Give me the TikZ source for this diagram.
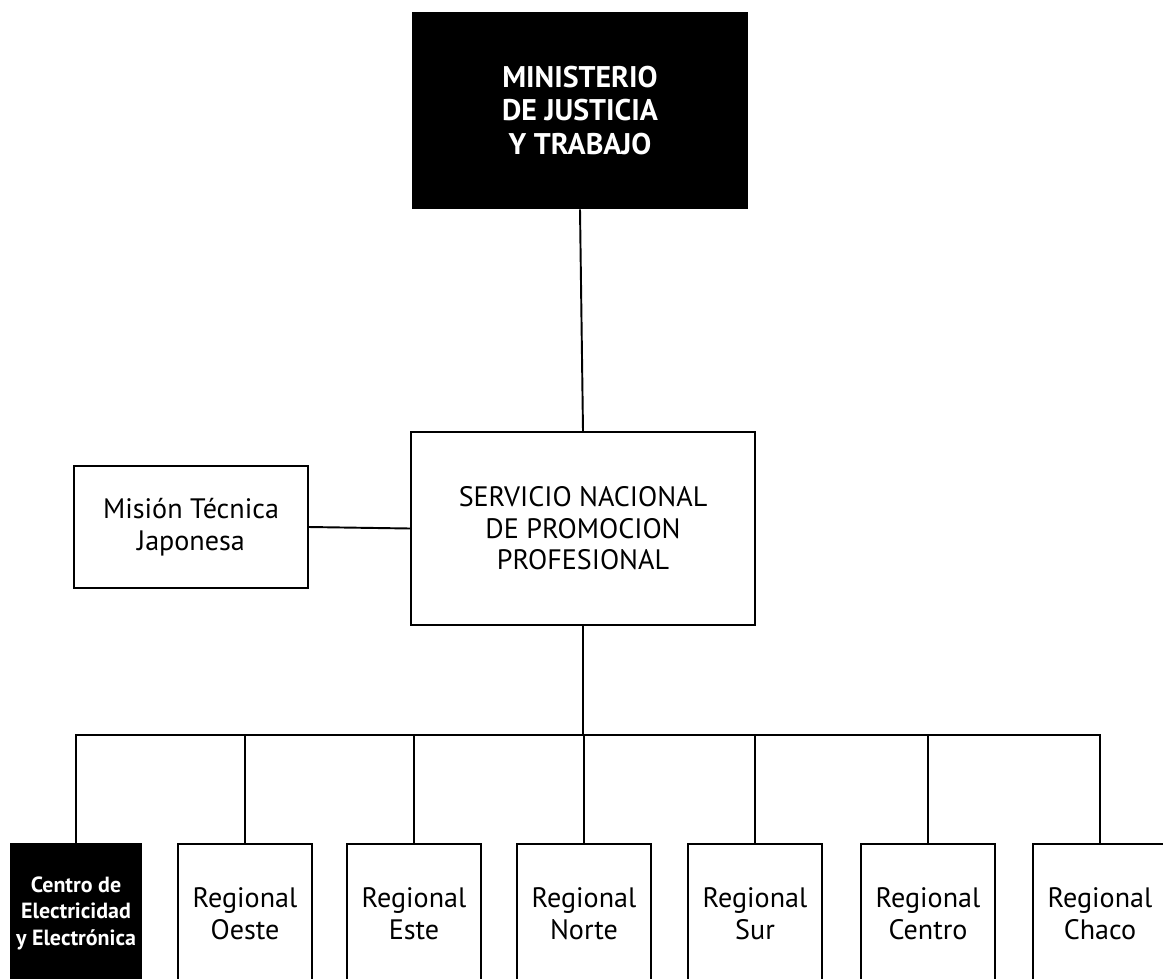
\documentclass[tikz,border=0pt]{standalone}
\usepackage{fontspec}
\setmainfont{PT Sans}
\begin{document}
\begin{tikzpicture}[x=0.02cm, y=-0.02cm,
	caja/.style		= {draw, line width=1.1pt, align=center, inner sep=0pt,
					   font=\fontsize{16}{18}\selectfont},
	cajanegra/.style	= {fill=black, text=white, align=center, inner sep=0pt},
	regional/.style	= {caja, anchor=north, minimum width=2.68cm, minimum height=2.8cm},
	linea/.style		= {line width=1.1pt}]
	% Marco
	\useasboundingbox	(0,0)	rectangle	(1163,978);
	\clip 				(0,0)	rectangle	(1163,978);
	% Cajas principales
	\node [cajanegra, minimum width=6.72cm, minimum height=3.94cm,
		   font=\bfseries\fontsize{17}{19}\selectfont]	(min)	at (580, 110.5)	{MINISTERIO\\DE JUSTICIA\\Y TRABAJO};
	\node [caja, minimum width=6.88cm, minimum height=3.86cm]	(snpp)	at (583, 528.5)	{SERVICIO NACIONAL\\DE PROMOCION\\PROFESIONAL};
	\node [caja, minimum width=4.68cm, minimum height=2.44cm]	(mtj)	at (191, 527)	{Misión Técnica\\Japonesa};
	% Centros y regionales
	\node [cajanegra, anchor=north, minimum width=2.66cm, minimum height=2.8cm,
		   font=\bfseries\fontsize{12.5}{15}\selectfont]	(ceye)	at (76, 843)	{Centro de\\Electricidad\\y Electrónica};
	\node [regional]	(oeste)		at (245, 843)	{Regional\\Oeste};
	\node [regional]	(este)		at (414, 843)	{Regional\\Este};
	\node [regional]	(norte)		at (584, 843)	{Regional\\Norte};
	\node [regional]	(sur)		at (755, 843)	{Regional\\Sur};
	\node [regional]	(centro)	at (928, 843)	{Regional\\Centro};
	\node [regional]	(chaco)		at (1100, 843)	{Regional\\Chaco};
	% Lineas
	\draw [linea]	(min.south)		-- (snpp.north);
	\draw [linea]	(mtj.east)		-- (snpp.west);
	\coordinate		(bus)	at (snpp.south |- 0,735);
	\draw [linea]	(snpp.south)	-- (bus);
	\draw [linea]	(ceye.north)	|- (bus) -| (chaco.north);
	\foreach \r in {oeste, este, norte, sur, centro}
		\draw [linea]	(\r.north)	-- (\r.north |- bus);
\end{tikzpicture}
\end{document}
